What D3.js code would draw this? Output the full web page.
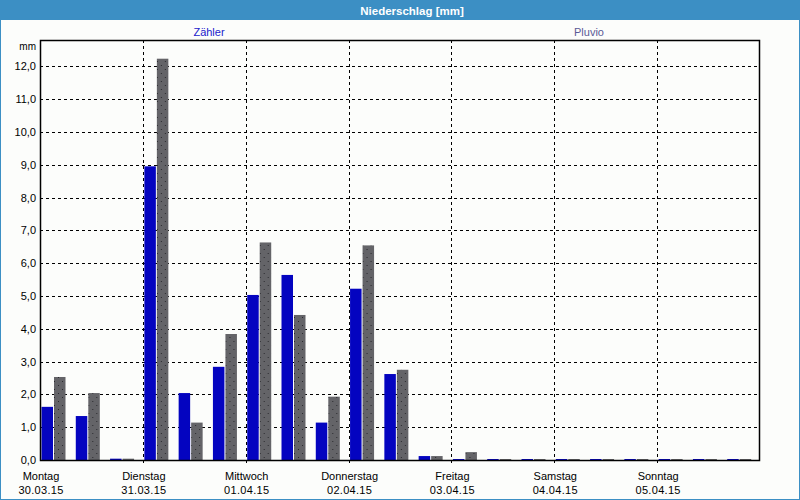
<!DOCTYPE html>
<html>
<head>
<meta charset="utf-8">
<script src="https://cdn.jsdelivr.net/npm/d3@7"></script>
<style>
	body { margin: 0; background: #fcfdfb; }
	text { font-family: "Liberation Sans", Arial, sans-serif; }
</style>
</head>
<body>
<div id="chart"></div>
<script>
// 3 Messintervalle pro Tag (8h)
var dayNames = ["Montag", "Dienstag", "Mittwoch", "Donnerstag", "Freitag", "Samstag", "Sonntag"];
var dayDates = ["30.03.15", "31.03.15", "01.04.15", "02.04.15", "03.04.15", "04.04.15", "05.04.15"];
var seriesNames = ["Zähler", "Pluvio"];
var zaehler = [1.62, 1.34, 0.04, 8.95, 2.04, 2.84, 5.03, 5.64, 1.14, 5.22, 2.62, 0.12, 0.03, 0.03, 0.03, 0.03, 0.03, 0.03, 0.03, 0.03, 0.03];
var pluvio = [2.53, 2.04, 0.04, 12.23, 1.14, 3.84, 6.63, 4.42, 1.93, 6.54, 2.75, 0.12, 0.24, 0.03, 0.03, 0.03, 0.03, 0.03, 0.03, 0.03, 0.03];
var yTicks = [0, 1, 2, 3, 4, 5, 6, 7, 8, 9, 10, 11, 12];

(function () {
	var svgwidth = 800;
	var svgheight = 500;
	var left = 40, right = 760, top = 40, bottom = 460;

	var svg = d3.select("#chart")
		.append("svg")
		.attr("width", svgwidth)
		.attr("height", svgheight);

	// dotted fill for the Pluvio bars
	var pat = svg.append("defs").append("pattern")
		.attr("id", "dots")
		.attr("patternUnits", "userSpaceOnUse")
		.attr("width", 8)
		.attr("height", 8);
	pat.append("rect").attr("width", 8).attr("height", 8).attr("fill", "#646468");
	pat.append("rect").attr("x", 2).attr("y", 1).attr("width", 1).attr("height", 1).attr("fill", "#2a2a2e");
	pat.append("rect").attr("x", 6).attr("y", 5).attr("width", 1).attr("height", 1).attr("fill", "#2a2a2e");

	// title bar + outer frame
	svg.append("rect")
		.attr("x", 0.5).attr("y", 0.5)
		.attr("width", svgwidth - 1).attr("height", svgheight - 1)
		.attr("fill", "#fcfdfb")
		.attr("stroke", "#3c8fc4");
	svg.append("rect")
		.attr("x", 0).attr("y", 0)
		.attr("width", svgwidth).attr("height", 20)
		.attr("fill", "#3c8fc4");
	svg.append("text")
		.attr("x", 412)
		.attr("y", 14.5)
		.attr("text-anchor", "middle")
		.attr("fill", "#ffffff")
		.style("font-weight", "bold")
		.style("font-size", "11.5px")
		.text("Niederschlag [mm]");

	// legend
	var legendX = [209, 589];
	var legendColors = ["#2222cc", "#5a5a96"];
	svg.selectAll(".legend")
		.data(seriesNames)
		.enter()
		.append("text")
		.attr("class", "legend")
		.attr("x", function (d, i) { return legendX[i]; })
		.attr("y", 36)
		.attr("text-anchor", "middle")
		.attr("fill", function (d, i) { return legendColors[i]; })
		.style("font-size", "11px")
		.text(function (d) { return d; });

	var idx = d3.range(zaehler.length);
	var data = idx.map(function (i) { return { i: i, values: [zaehler[i], pluvio[i]] }; });

	var x0 = d3.scaleBand().domain(idx).range([left, right]);
	var x1 = d3.scaleBand().domain([0, 1]).range([1.5, 25.5]).paddingInner(0.08);
	var xDay = d3.scaleLinear().domain([0, dayNames.length]).range([left, right]);
	var yScale = d3.scaleLinear().domain([0, 12.8]).range([bottom, top]);

	var de = d3.formatLocale({ decimal: ",", thousands: ".", grouping: [3], currency: ["", " €"] });

	var g = svg.append("g");

	// horizontal grid
	g.selectAll(".hgrid")
		.data(yTicks.slice(1))
		.enter()
		.append("line")
		.attr("x1", left).attr("x2", right)
		.attr("y1", function (d) { return Math.round(yScale(d)) + 0.5; })
		.attr("y2", function (d) { return Math.round(yScale(d)) + 0.5; })
		.attr("stroke", "#000")
		.attr("stroke-dasharray", "3,3");

	// vertical day separators
	g.selectAll(".vgrid")
		.data(d3.range(1, dayNames.length))
		.enter()
		.append("line")
		.attr("x1", function (d) { return Math.round(xDay(d)) + 0.5; })
		.attr("x2", function (d) { return Math.round(xDay(d)) + 0.5; })
		.attr("y1", top).attr("y2", bottom + 4)
		.attr("stroke", "#000")
		.attr("stroke-dasharray", "3,3");

	// bars
	var groups = g.selectAll(".grp")
		.data(data)
		.enter()
		.append("g")
		.attr("transform", function (d) { return "translate(" + x0(d.i) + ",0)"; });

	groups.selectAll("rect")
		.data(function (d) { return d.values; })
		.enter()
		.append("rect")
		.attr("x", function (d, j) { return x1(j); })
		.attr("width", x1.bandwidth())
		.attr("y", function (d) { return yScale(d); })
		.attr("height", function (d) { return bottom - yScale(d); })
		.attr("fill", function (d, j) { return j === 0 ? "#0404c0" : "url(#dots)"; });

	// y axis
	var yAxis = g.append("g")
		.attr("transform", "translate(" + left + ",0)")
		.call(d3.axisLeft(yScale).tickValues(yTicks).tickSize(0).tickPadding(4).tickFormat(de.format(".1f")));
	yAxis.select(".domain").remove();
	yAxis.selectAll("text").style("font-size", "11px").attr("fill", "#000").style("font-family", "Liberation Sans, Arial, sans-serif");

	svg.append("text")
		.attr("x", 36)
		.attr("y", 50)
		.attr("text-anchor", "end")
		.style("font-size", "10px")
		.text("mm");

	// frame
	g.append("rect")
		.attr("x", left + 0.5).attr("y", top + 0.5)
		.attr("width", right - left - 1).attr("height", bottom - top)
		.attr("fill", "none")
		.attr("stroke", "#000")
		.attr("stroke-width", 1.5);

	// day labels
	var dl = g.selectAll(".day")
		.data(dayNames)
		.enter()
		.append("g")
		.attr("transform", function (d, i) { return "translate(" + (xDay(i) + 1) + ",0)"; });
	dl.append("text")
		.attr("y", 480)
		.attr("text-anchor", "middle")
		.style("font-size", "11px")
		.text(function (d) { return d; });
	dl.append("text")
		.attr("y", 494)
		.attr("text-anchor", "middle")
		.style("font-size", "11px")
		.style("letter-spacing", "0.3px")
		.text(function (d, i) { return dayDates[i]; });
})();
</script>
</body>
</html>
